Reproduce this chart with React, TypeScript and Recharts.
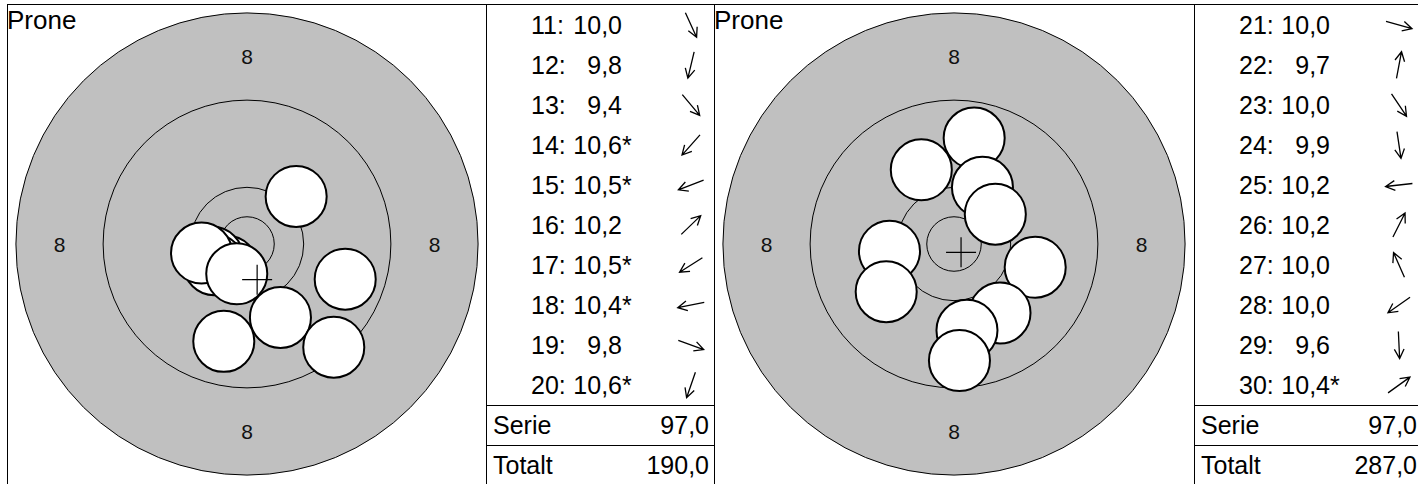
import React from "react";
import { ScatterChart, Scatter, XAxis, YAxis } from "recharts";

// 50 m rifle target, everything in mm
const ringRadii = [21.2, 13.2, 5.2, 2.5];
const ringLabelRadius = 17.2;
const ringLabel = "8";
const shotRadius = 2.8;
const title = "Prone";

// shots 11-20 (x right, y up, mm from centre)
const s2Numbers = [11, 12, 13, 14, 15, 16, 17, 18, 19, 20];
const s2Scores = [10.0, 9.8, 9.4, 10.6, 10.5, 10.2, 10.5, 10.4, 9.8, 10.6];
const s2Inner = [false, false, false, true, true, false, true, true, false, true];
const s2X = [3.07, -2.13, 7.96, -1.83, -3.17, 4.51, -3.01, -4.17, 9.01, -0.94];
const s2Y = [-6.74, -8.93, -9.47, -2.05, -1.22, 4.36, -1.9, -0.83, -3.23, -2.73];
const s2Serie = 97.0;
const s2Total = 190.0;

// shots 21-30
const s3Numbers = [21, 22, 23, 24, 25, 26, 27, 28, 29, 30];
const s3Scores = [10.0, 9.7, 10.0, 9.9, 10.2, 10.2, 10.0, 10.0, 9.6, 10.4];
const s3Inner = [false, false, false, false, false, false, false, false, false, true];
const s3X = [7.45, 1.85, 4.22, 1.19, -5.92, 2.61, -3.0, -6.22, 0.5, 3.79];
const s3Y = [-2.13, 9.72, -6.33, -7.92, -0.66, 5.2, 6.81, -4.38, -10.69, 2.73];
const s3Serie = 97.0;
const s3Total = 287.0;

const PX_PER_MM = 10.9;
const SIZE = 478;
const HALF = SIZE / 2 / PX_PER_MM;
const GRAY = "#c0c0c0";
const FONT = '"Liberation Sans", Arial, Helvetica, sans-serif';
const ROW_H = 40;

const fmt = (v: number) => v.toFixed(1).replace(".", ",");
const avg = (a: number[]) => a.reduce((s, v) => s + v, 0) / a.length;

const RingShape = (p: any) => (
  <circle
    cx={p.cx}
    cy={p.cy}
    r={p.payload.r * PX_PER_MM}
    fill={p.payload.fill}
    stroke="#000"
    strokeWidth={1}
  />
);

const LabelShape = (p: any) => (
  <text
    x={p.cx}
    y={p.cy}
    textAnchor="middle"
    dominantBaseline="central"
    fontSize={21}
    fontFamily={FONT}
    fill="#111"
  >
    {ringLabel}
  </text>
);

const ShotShape = (p: any) => (
  <circle
    cx={p.cx}
    cy={p.cy}
    r={shotRadius * PX_PER_MM}
    fill="#fff"
    stroke="#000"
    strokeWidth={2}
  />
);

const CrossShape = (p: any) => (
  <path
    d={`M${p.cx - 15},${p.cy}H${p.cx + 15}M${p.cx},${p.cy - 15}V${p.cy + 15}`}
    stroke="#000"
    strokeWidth={1.2}
    fill="none"
  />
);

function Target({ xs, ys }: { xs: number[]; ys: number[] }) {
  const shots = xs.map((x, i) => ({ x, y: ys[i] }));
  const mean = [{ x: avg(xs), y: avg(ys) }];
  const rings = ringRadii.map((r, i) => ({ x: 0, y: 0, r, fill: i === 0 ? GRAY : "none" }));
  const labels = [
    { x: 0, y: ringLabelRadius },
    { x: ringLabelRadius, y: 0 },
    { x: 0, y: -ringLabelRadius },
    { x: -ringLabelRadius, y: 0 },
  ];
  return (
    <ScatterChart width={SIZE} height={SIZE} margin={{ top: 0, right: 0, bottom: 0, left: 0 }}>
      <XAxis type="number" dataKey="x" domain={[-HALF, HALF]} hide allowDataOverflow />
      <YAxis type="number" dataKey="y" domain={[-HALF, HALF]} hide allowDataOverflow />
      <Scatter data={rings} shape={RingShape} isAnimationActive={false} />
      <Scatter data={labels} shape={LabelShape} isAnimationActive={false} />
      <Scatter data={shots} shape={ShotShape} isAnimationActive={false} />
      <Scatter data={mean} shape={CrossShape} isAnimationActive={false} />
    </ScatterChart>
  );
}

// arrow pointing the way the shot lies from the centre
function Arrow({ x, y }: { x: number; y: number }) {
  const a = Math.atan2(-y, x);
  const c = 14;
  const m = 20;
  const half = 13.5;
  const dx = Math.cos(a);
  const dy = Math.sin(a);
  const tx = c + dx * half;
  const ty = m + dy * half;
  const head = 10.5;
  const w = 0.48;
  const w1x = tx - head * Math.cos(a - w);
  const w1y = ty - head * Math.sin(a - w);
  const w2x = tx - head * Math.cos(a + w);
  const w2y = ty - head * Math.sin(a + w);
  return (
    <svg width={28} height={40} style={{ position: "absolute", left: 190, top: 0, overflow: "visible" }}>
      <path
        d={`M${c - dx * half},${m - dy * half}L${tx},${ty}M${w1x},${w1y}L${tx},${ty}L${w2x},${w2y}`}
        stroke="#000"
        strokeWidth={1.3}
        fill="none"
      />
    </svg>
  );
}

function ScoreTable(props: {
  numbers: number[];
  scores: number[];
  inner: boolean[];
  xs: number[];
  ys: number[];
  serie: number;
  total: number;
}) {
  const { numbers, scores, inner, xs, ys, serie, total } = props;
  const text: React.CSSProperties = { position: "absolute", top: 0, lineHeight: `${ROW_H}px` };
  return (
    <div style={{ fontFamily: FONT, fontSize: 25, color: "#000" }}>
      {numbers.map((n, i) => (
        <div key={n} style={{ position: "relative", height: ROW_H }}>
          <span style={{ ...text, left: 44 }}>{n}:</span>
          <span style={{ ...text, left: 0, width: 135, textAlign: "right" }}>{fmt(scores[i])}</span>
          {inner[i] && <span style={{ ...text, left: 135 }}>*</span>}
          <Arrow x={xs[i]} y={ys[i]} />
        </div>
      ))}
      {[
        ["Serie", serie],
        ["Totalt", total],
      ].map(([label, v]) => (
        <div
          key={label as string}
          style={{
            position: "relative",
            height: ROW_H - 1,
            borderTop: "1px solid #000",
            lineHeight: `${ROW_H - 1}px`,
          }}
        >
          <span style={{ position: "absolute", left: 6, top: 0 }}>{label}</span>
          <span style={{ position: "absolute", left: 0, width: 222, textAlign: "right", top: 0 }}>
            {fmt(v as number)}
          </span>
        </div>
      ))}
    </div>
  );
}

const cell = (left: number, width: number): React.CSSProperties => ({
  position: "absolute",
  left,
  top: 4,
  width,
  height: 490,
  borderLeft: "1px solid #000",
  borderTop: "1px solid #000",
  boxSizing: "border-box",
});

export default function App() {
  return (
    <div
      style={{
        position: "absolute",
        left: 0,
        top: 0,
        width: 1418,
        height: 484,
        overflow: "hidden",
        background: "#fff",
        fontFamily: FONT,
      }}
    >
      <div style={cell(7, 479)}>
        <Target xs={s2X} ys={s2Y} />
        <div style={{ position: "absolute", left: -1, top: 0, fontSize: 26, lineHeight: "30px" }}>{title}</div>
      </div>
      <div style={cell(486, 228)}>
        <ScoreTable
          numbers={s2Numbers}
          scores={s2Scores}
          inner={s2Inner}
          xs={s2X}
          ys={s2Y}
          serie={s2Serie}
          total={s2Total}
        />
      </div>
      <div style={cell(714, 480)}>
        <Target xs={s3X} ys={s3Y} />
        <div style={{ position: "absolute", left: -1, top: 0, fontSize: 26, lineHeight: "30px" }}>{title}</div>
      </div>
      <div style={cell(1194, 228)}>
        <ScoreTable
          numbers={s3Numbers}
          scores={s3Scores}
          inner={s3Inner}
          xs={s3X}
          ys={s3Y}
          serie={s3Serie}
          total={s3Total}
        />
      </div>
    </div>
  );
}
